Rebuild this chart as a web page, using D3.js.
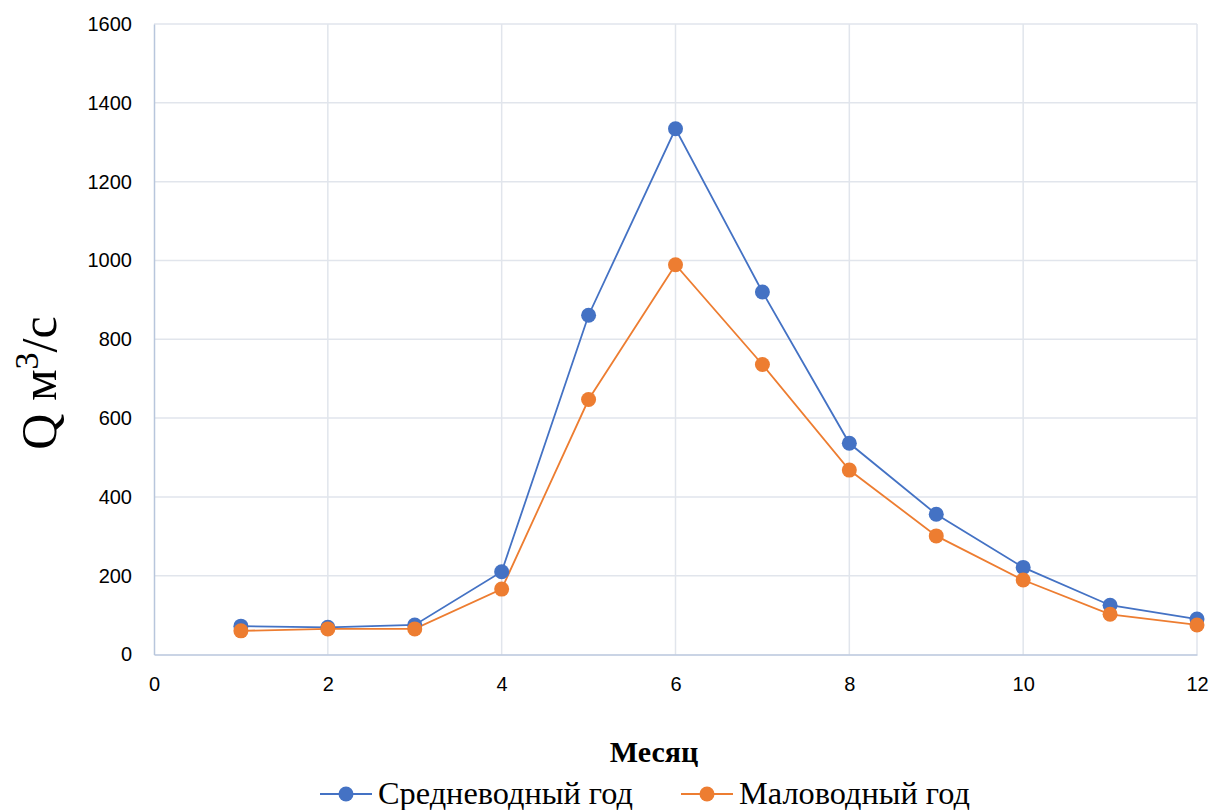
<!DOCTYPE html>
<html>
<head>
<meta charset="utf-8">
<script src="https://cdn.jsdelivr.net/npm/d3@7"></script>
<style>
  html, body { margin: 0; padding: 0; background: #fff; }
  #app { width: 1213px; height: 810px; }
</style>
</head>
<body>
<div id="app"></div>
<script>
// months on the x axis
const months = [1, 2, 3, 4, 5, 6, 7, 8, 9, 10, 11, 12];
// discharge, m3/s
const avgYear = [72, 69, 75, 210, 861, 1334, 920, 536, 356, 221, 125, 90];
const dryYear = [60, 65, 65, 166, 647, 989, 736, 468, 301, 189, 102, 75];
const seriesNames = ['Средневодный год', 'Маловодный год'];
const xTicks = [0, 2, 4, 6, 8, 10, 12];
const yTicks = [0, 200, 400, 600, 800, 1000, 1200, 1400, 1600];

function main() {
  const W = 1213, H = 810;
  const svg = d3.select('#app').append('svg')
    .attr('width', W).attr('height', H)
    .style('font-family', '"Liberation Sans", Arial, sans-serif');

  const x = d3.scaleLinear().domain([0, 12]).range([154, 1197]);
  const y = d3.scaleLinear().domain([0, 1600]).range([654.5, 24]);

  // gridlines
  svg.append('g').selectAll('line.h').data(yTicks.slice(1)).join('line')
    .attr('x1', x(0)).attr('x2', x(12))
    .attr('y1', d => y(d)).attr('y2', d => y(d))
    .attr('stroke', '#e1e5ec').attr('stroke-width', 1.5);
  svg.append('g').selectAll('line.v').data(xTicks.slice(1)).join('line')
    .attr('y1', y(0)).attr('y2', y(1600))
    .attr('x1', d => x(d)).attr('x2', d => x(d))
    .attr('stroke', '#e1e5ec').attr('stroke-width', 1.5);

  // axes
  const fmt = d3.format('d');
  const xAxis = svg.append('g').attr('transform', `translate(0,${y(0)})`)
    .call(d3.axisBottom(x).tickValues(xTicks).tickFormat(fmt).tickSize(0).tickPadding(22));
  const yAxis = svg.append('g').attr('transform', `translate(${x(0)},0)`)
    .call(d3.axisLeft(y).tickValues(yTicks).tickFormat(fmt).tickSize(0).tickPadding(22));
  [xAxis, yAxis].forEach(a => {
    a.select('.domain').attr('stroke', '#b8c6dc').attr('stroke-width', 1.5);
    a.selectAll('text').attr('font-size', 20).attr('fill', '#000')
      .style('font-family', '"Liberation Sans", Arial, sans-serif');
  });

  // series
  const colors = ['#4472c4', '#ed7d31'];
  const series = [avgYear, dryYear];
  const line = d3.line().x((d, i) => x(months[i])).y(d => y(d));
  series.forEach((s, k) => {
    svg.append('path').datum(s)
      .attr('d', line).attr('fill', 'none')
      .attr('stroke', colors[k]).attr('stroke-width', 1.8);
  });
  series.forEach((s, k) => {
    svg.append('g').selectAll('circle').data(s).join('circle')
      .attr('cx', (d, i) => x(months[i])).attr('cy', d => y(d))
      .attr('r', 7.5).attr('fill', colors[k]);
  });

  // axis titles
  svg.append('text')
    .attr('x', 654).attr('y', 762)
    .attr('text-anchor', 'middle')
    .attr('font-family', '"Liberation Serif", "Times New Roman", serif')
    .attr('font-weight', 'bold').attr('font-size', 30)
    .text('Месяц');

  const yl = svg.append('text')
    .attr('transform', 'translate(56,383) rotate(-90)')
    .attr('text-anchor', 'middle')
    .attr('font-family', '"Liberation Serif", "Times New Roman", serif')
    .attr('font-size', 50);
  yl.append('tspan').text('Q м');
  yl.append('tspan').attr('font-size', 34).attr('dy', -18).text('3');
  yl.append('tspan').attr('dy', 18).text('/с');

  // legend
  const legendX = [320, 681];
  const legendW = [255, 231];
  seriesNames.forEach((name, k) => {
    const g = svg.append('g').attr('transform', `translate(${legendX[k]},794)`);
    g.append('line').attr('x1', 0).attr('x2', 52)
      .attr('stroke', colors[k]).attr('stroke-width', 1.8);
    g.append('circle').attr('cx', 26).attr('r', 7.5).attr('fill', colors[k]);
    g.append('text').attr('x', 58).attr('y', 10)
      .attr('font-family', '"Liberation Serif", "Times New Roman", serif')
      .attr('font-size', 31)
      .attr('textLength', legendW[k]).attr('lengthAdjust', 'spacingAndGlyphs')
      .text(name);
  });
}

main();
</script>
</body>
</html>
